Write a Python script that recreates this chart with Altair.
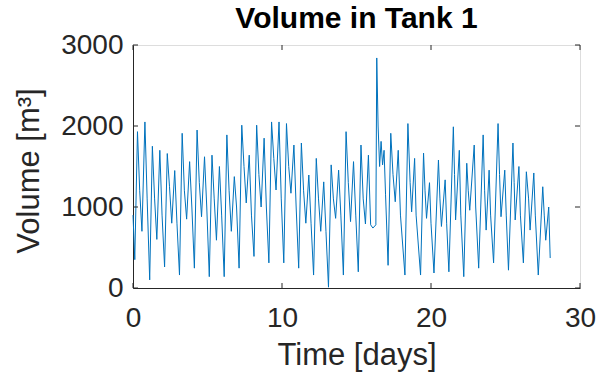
import altair as alt
import pandas as pd

time_days = [
    0.0, 0.12, 0.3, 0.45, 0.6, 0.8, 0.95,
    1.12, 1.3, 1.45, 1.6, 1.8, 1.95,
    2.12, 2.3, 2.45, 2.6, 2.8, 2.95,
    3.12, 3.3, 3.45, 3.6, 3.8, 3.95,
    4.12, 4.3, 4.45, 4.6, 4.8, 4.95,
    5.12, 5.3, 5.45, 5.6, 5.8, 5.95,
    6.12, 6.3, 6.45, 6.6, 6.8, 6.95,
    7.12, 7.3, 7.45, 7.6, 7.8, 7.95,
    8.12, 8.3, 8.45, 8.6, 8.8, 8.95,
    9.12, 9.3, 9.45, 9.6, 9.8, 9.95,
    10.12, 10.3, 10.45, 10.6, 10.8, 10.95,
    11.12, 11.3, 11.45, 11.6, 11.8, 11.95,
    12.12, 12.3, 12.45, 12.6, 12.8, 12.95,
    13.12, 13.3, 13.45, 13.6, 13.8, 13.95,
    14.12, 14.3, 14.45, 14.6, 14.8, 14.95,
    15.12, 15.3, 15.45, 15.6, 15.8, 15.95,
    16.1, 16.3, 16.36, 16.45, 16.55, 16.65, 16.75, 16.85, 16.95,
    17.12, 17.3, 17.45, 17.6, 17.8, 17.95,
    18.25, 18.45, 18.6, 18.7, 18.9, 19.0,
    19.3, 19.5, 19.6, 19.7, 19.9, 20.0,
    20.2, 20.5, 20.6, 20.7, 20.95, 21.05,
    21.2, 21.5, 21.58, 21.65, 21.9, 22.0,
    22.2, 22.4, 22.5, 22.6, 22.9, 23.0,
    23.2, 23.5, 23.6, 23.7, 23.9, 24.0,
    24.2, 24.5, 24.6, 24.7, 24.95, 25.05,
    25.2, 25.5, 25.58, 25.65, 25.9, 26.0,
    26.2, 26.4, 26.55, 26.65, 26.9, 27.0,
    27.2, 27.5, 27.6, 27.7, 27.9, 28.0,
]

volume_m3 = [
    900, 350, 1930, 1200, 700, 2050, 1100,
    100, 1750, 1100, 600, 1700, 900,
    260, 1660, 1250, 800, 1450, 800,
    160, 1910, 1200, 850, 1560, 1000,
    245, 1950, 1300, 880, 1620, 1000,
    140, 1640, 1100, 590, 1500, 900,
    140, 1890, 1200, 700, 1375, 1000,
    245, 2010, 1500, 1050, 1640, 900,
    390, 2010, 1400, 1000, 1850, 1000,
    310, 2050, 1600, 1210, 2050, 1100,
    310, 2030, 1500, 1170, 1765, 1000,
    245, 1790, 1200, 800, 1395, 800,
    160, 1600, 1100, 700, 1310, 700,
    10, 1520, 1100, 860, 1455, 900,
    160, 1930, 1300, 820, 1560, 900,
    200, 1765, 1100, 790, 1640, 780,
    740, 780, 2840, 2000, 1500, 1810, 1520, 1700, 1150,
    280, 1910, 1400, 1065, 1700, 900,
    160, 2030, 1300, 940, 1600, 900,
    160, 1665, 1200, 860, 1300, 800,
    185, 1580, 1100, 760, 1335, 800,
    200, 1990, 1400, 840, 1700, 900,
    140, 1540, 1200, 960, 1765, 1000,
    245, 1890, 1200, 715, 1455, 900,
    310, 2030, 1400, 880, 1455, 900,
    220, 1790, 1300, 840, 1500, 900,
    310, 1435, 1100, 715, 1420, 900,
    160, 1250, 900, 590, 1000, 370,
]

x_ticks = [0, 10, 20, 30]
y_ticks = [0, 1000, 2000, 3000]

W, H = 447, 243
FONT = "Liberation Sans"
AX = "#262626"

df = pd.DataFrame({"t": time_days, "v": volume_m3})
xt = pd.DataFrame({"t": x_ticks})
yt = pd.DataFrame({"v": y_ticks})

xs = alt.Scale(domain=[0, 30], nice=False, zero=False)
ys = alt.Scale(domain=[0, 3000], nice=False)

x_axis = alt.Axis(
    values=x_ticks, title="Time [days]", ticks=False, grid=False, format="d",
    labelFlush=False, labelPadding=16, labelFontSize=28, labelFont=FONT,
    labelColor=AX, titleFontSize=31, titleFont=FONT, titleColor=AX,
    titleFontWeight="normal", titleBaseline="middle", titleY=67, domainColor=AX)
y_axis = alt.Axis(
    values=y_ticks, title="Volume [m³]", ticks=False, grid=False, format="d",
    labelFlush=False, labelPadding=10, labelFontSize=28, labelFont=FONT,
    labelColor=AX, titleFontSize=31, titleFont=FONT, titleColor=AX,
    titleFontWeight="normal", titleBaseline="middle", titleX=-104,
    titleY=H / 2 + 4, domainColor=AX)

line = alt.Chart(df).mark_line(color="#0072BD", strokeWidth=1).encode(
    x=alt.X("t:Q", scale=xs, axis=x_axis, title="Time [days]"),
    y=alt.Y("v:Q", scale=ys, axis=y_axis, title="Volume [m³]"),
)

tb = alt.Chart(xt).mark_rule(color=AX, strokeWidth=1).encode(
    x=alt.X("t:Q", scale=xs, axis=x_axis, title="Time [days]"),
    y=alt.value(H), y2=alt.value(H - 5))
tt = alt.Chart(xt).mark_rule(color=AX, strokeWidth=1).encode(
    x=alt.X("t:Q", scale=xs, axis=x_axis, title="Time [days]"),
    y=alt.value(0), y2=alt.value(5))
tl = alt.Chart(yt).mark_rule(color=AX, strokeWidth=1).encode(
    y=alt.Y("v:Q", scale=ys, axis=y_axis, title="Volume [m³]"),
    x=alt.value(0), x2=alt.value(5))
tr = alt.Chart(yt).mark_rule(color=AX, strokeWidth=1).encode(
    y=alt.Y("v:Q", scale=ys, axis=y_axis, title="Volume [m³]"),
    x=alt.value(W), x2=alt.value(W - 5))

chart = alt.layer(line, tb, tt, tl, tr).properties(
    width=W, height=H,
    title=alt.TitleParams("Volume in Tank 1", fontSize=30, fontWeight="bold",
                          font=FONT, color="black", baseline="alphabetic",
                          offset=0, dy=27, anchor="middle", frame="group"),
    autosize=alt.AutoSizeParams(type="none"),
    padding={"left": 133, "top": 45, "right": 21, "bottom": 90},
).configure_view(stroke=AX, strokeWidth=1).configure(background="white")

chart.save("out.html", embed_options={"renderer": "svg", "actions": False})
